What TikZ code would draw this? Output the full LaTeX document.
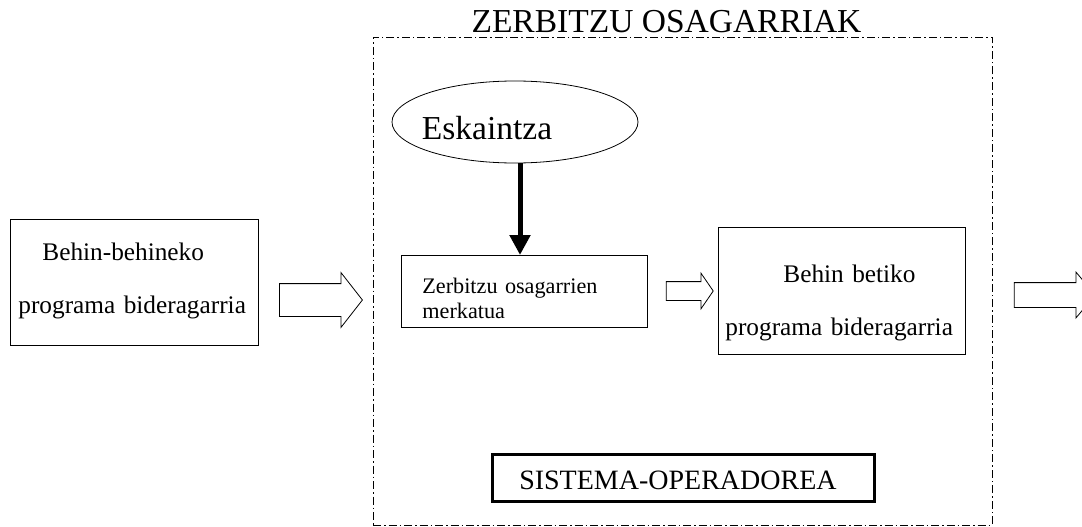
\documentclass[tikz,border=0pt]{standalone}
\usepackage{fontspec}
\setmainfont{Liberation Serif}
\usetikzlibrary{shapes, shapes.geometric, shapes.arrows, arrows.meta, calc, positioning}

\tikzset{
    box/.style={draw, line width=0.8pt, inner ysep=0pt, anchor=north west, align=left},
    blockarrow/.style={single arrow, draw, line width=0.8pt, inner sep=0pt, fill=white},
    heavy/.style={line width=5pt, -{Triangle[length=20pt, width=20pt]}},
    dashdotframe/.style={draw, line width=0.8pt, inner sep=0pt, dash pattern=on 8pt off 3pt on 1.5pt off 3pt}
}

\begin{document}
\begin{tikzpicture}[x=1pt, y=-1pt]
        \clip (0,0) rectangle (1082,527);

        \node[dashdotframe, minimum width=619pt, minimum height=488pt] (zerb) at (682.5,281) {};
        \node[anchor=base, inner sep=0pt, font=\fontsize{33.5}{40}\selectfont] (zerbtitle) at (666.5,33) {ZERBITZU OSAGARRIAK};

        \node[box, inner xsep=8pt, text width=232pt, font=\fontsize{25.3}{53}\selectfont] (prov) at (10,219)
            {\rule{0pt}{41pt}\hspace*{24pt}Behin-behineko\\programa bideragarria\rule[-32pt]{0pt}{32pt}};
        \node[box, inner xsep=21pt, text width=204pt, font=\fontsize{22.2}{25}\selectfont] (merk) at (401,255)
            {\rule{0pt}{38pt}Zerbitzu osagarrien\\merkatua\rule[-9pt]{0pt}{9pt}};
        \node[box, inner xsep=7pt, text width=233pt, font=\fontsize{25.3}{53}\selectfont] (betiko) at (718,227)
            {\rule{0pt}{55pt}\hspace*{58pt}Behin betiko\\programa bideragarria\rule[-19pt]{0pt}{19pt}};
        \node[box, line width=2.5pt, inner xsep=27pt, text width=328pt, font=\fontsize{28}{34}\selectfont] (sist) at (491,453)
            {\rule[-12pt]{0pt}{47pt}SISTEMA-OPERADOREA};

        \node[ellipse, draw, line width=0.8pt, inner sep=0pt, minimum width=246pt, minimum height=82pt,
              text height=34.6pt, text depth=0pt, font=\fontsize{33.5}{40}\selectfont] (esk) at (515,122)
            {\makebox[0pt]{Eskaintza\hspace*{56pt}}};

        \node[blockarrow, inner ysep=16pt, single arrow head extend=11pt, single arrow tip angle=104, minimum height=83pt] (arrA) at (314.5,300) {};
        \node[blockarrow, inner ysep=9pt, single arrow head extend=8.5pt, single arrow tip angle=111, minimum height=47pt] (arrB) at (686.5,291) {};
        \node[blockarrow, inner ysep=12pt, single arrow head extend=10.5pt, single arrow tip angle=100, minimum height=81pt] (arrC) at (1049.5,295) {};

        \coordinate (eskfoot) at ([xshift=5pt]esk.south);
        \draw [heavy] (eskfoot) -- (eskfoot |- merk.north);
\end{tikzpicture}
\end{document}
